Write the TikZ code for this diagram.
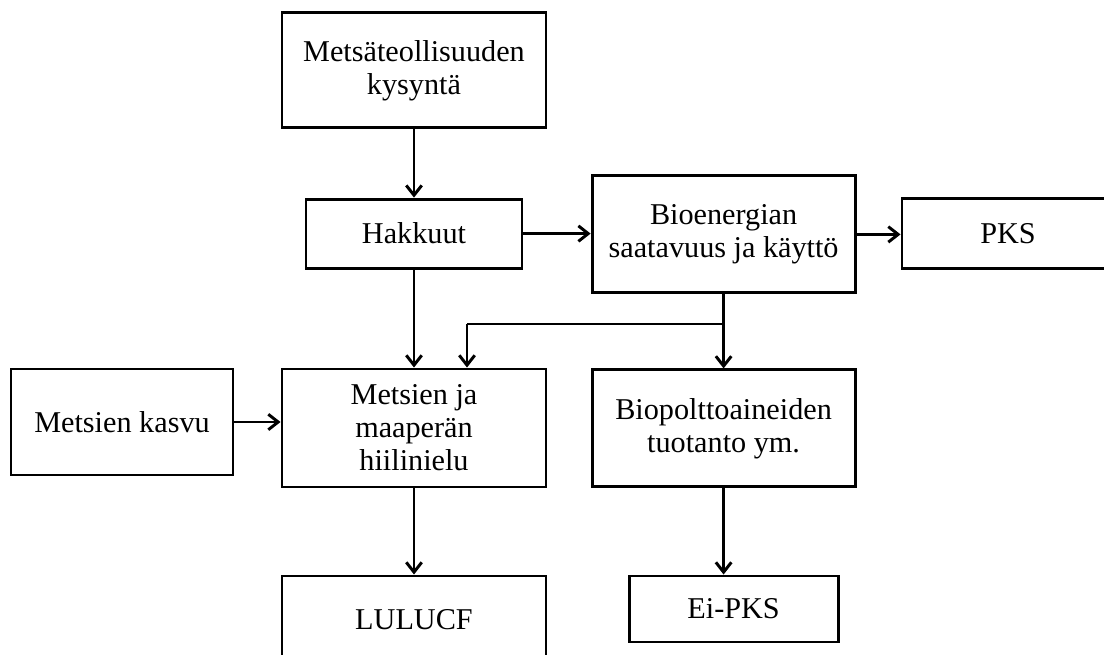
\documentclass[tikz,border=0pt]{standalone}
\usepackage{fontspec}
\setmainfont{Liberation Serif}
\usetikzlibrary{arrows.meta}

\begin{document}
\begin{tikzpicture}[
    box/.style={draw, line width=2.1pt, align=center, inner sep=0pt, font=\fontsize{21.5}{23.5}\selectfont},
    flow/.style={-{Straight Barb[length=7pt,width=11pt]}, line width=2.1pt}
]
    \useasboundingbox (0,0) rectangle (27.6,-16.375);

    % Boxes
    \node[box, minimum width=6.6cm, minimum height=2.875cm] (demand) at (10.35,-1.76) {Metsäteollisuuden\\kysyntä};
    \node[box, minimum width=5.4cm, minimum height=1.725cm] (harvest) at (10.35,-5.84) {Hakkuut};
    \node[box, minimum width=6.575cm, minimum height=2.925cm] (bioen) at (18.09,-5.86) {Bioenergian\\saatavuus ja käyttö};
    \node[box, minimum width=5.3cm, minimum height=1.75cm] (pks) at (25.2,-5.83) {PKS};
    \node[box, minimum width=5.55cm, minimum height=2.65cm] (growth) at (3.05,-10.55) {Metsien kasvu};
    \node[box, minimum width=6.6cm, minimum height=2.95cm] (sink) at (10.35,-10.7) {Metsien ja\\maaperän\\hiilinielu};
    \node[box, minimum width=6.575cm, minimum height=2.925cm] (biofuel) at (18.09,-10.71) {Biopolttoaineiden\\tuotanto ym.};
    \node[box, minimum width=6.6cm, minimum height=2.2cm] (lulucf) at (10.35,-15.5) {LULUCF};
    \node[box, minimum width=5.225cm, minimum height=1.65cm] (nonpks) at (18.34,-15.225) {Ei-PKS};

    % Branch points
    \coordinate (split) at (18.09,-8.1);
    \coordinate (splitleft) at (11.675,-8.1);

    % Arrows
    \draw[flow] (demand) -- (harvest);
    \draw[flow] (harvest.east) -- (harvest.east -| bioen.west);
    \draw[flow] (bioen.east) -- (bioen.east -| pks.west);
    \draw[flow] (harvest) -- (sink);
    \draw[line width=2.1pt] (bioen.south) -- (split) -- (splitleft);
    \draw[flow] (splitleft) -- (splitleft |- sink.north);
    \draw[flow] (split) -- (biofuel.north);
    \draw[flow] (growth.east) -- (growth.east -| sink.west);
    \draw[flow] (sink) -- (lulucf);
    \draw[flow] (biofuel.south) -- (biofuel.south |- nonpks.north);
\end{tikzpicture}
\end{document}
